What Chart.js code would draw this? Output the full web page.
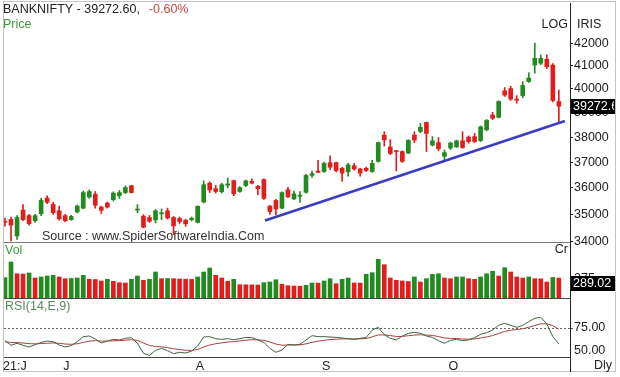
<!DOCTYPE html>
<html>
<head>
<meta charset="utf-8">
<script src="https://cdn.jsdelivr.net/npm/chart.js@4.4.0/dist/chart.umd.min.js"></script>
<style>
  html, body { margin: 0; padding: 0; background: #fff; }
  #wrap { position: relative; width: 620px; height: 377px; }
  #wrap canvas { position: absolute; left: 0; top: 0; }
  #frame { position: absolute; left: 3px; top: 1px; width: 611px; height: 369px; border: 1px solid #c4c4c4; }
</style>
</head>
<body>
<div id="wrap">
  <div id="frame"></div>
  <canvas id="price" width="620" height="377"></canvas>
  <canvas id="vol" width="620" height="377"></canvas>
  <canvas id="rsi" width="620" height="377"></canvas>
</div>
<script>
// daily BANKNIFTY candles, mid June 2021 -> end of Oct 2021
const opens = [34710,34810,34200,35160,34950,34760,35020,35610,35370,35130,
  34950,34800,35090,35230,35650,35760,35270,35420,35550,35700,
  35820,36080,35160,34930,34880,34790,35020,35130,34880,34840,
  34780,34800,34700,35460,36180,35970,35850,36100,36280,35860,
  36090,36250,36060,36320,35310,35520,35230,35930,35580,35680,
  35830,36480,36650,36630,36980,36980,36760,36620,36860,36730,
  36760,36630,37030,38080,37600,37450,37420,37360,38080,38230,
  38600,37680,37780,37230,37560,37610,37850,38000,38020,37860,
  38300,38910,38810,39920,40020,39560,39720,40320,41030,41110,
  41290,41030,39470];
const highs = [34860,34900,34950,35360,35000,35000,35600,35700,35450,35300,
  35000,34960,35350,35880,35920,35860,35300,35460,35850,35900,
  36080,36100,35360,34990,34960,35180,35200,35230,34920,34900,
  34820,34900,35320,36270,36230,36100,36180,36380,36300,36050,
  36300,36350,36100,36350,35330,35560,35850,36020,35880,35860,
  36520,36650,37070,37000,37250,37000,36800,36950,36950,36760,
  36800,37070,37800,38220,37900,37450,37450,37900,38220,38560,
  38620,38020,37980,37480,37800,37880,38220,38050,38150,38450,
  38720,39020,39500,40060,40120,39720,40320,40700,42000,41480,
  41480,41100,39950];
const lows = [34560,34020,34080,34760,34600,34700,34950,35400,35000,34780,
  34720,34780,35050,35200,35600,35230,35030,35230,35500,35600,
  35780,35800,35060,34500,34700,34680,34800,34820,34250,34650,
  34550,34750,34680,35430,35820,35800,35800,36000,35700,35830,
  36050,36150,35740,35560,35000,34980,35200,35630,35550,35450,
  35800,36400,36590,36600,36700,36620,36250,36450,36680,36450,
  36630,36600,37000,37640,37300,36650,36990,37340,37780,38180,
  37420,37640,37450,37050,37500,37580,37550,37750,37780,37820,
  38250,38720,38780,39680,39520,39400,39620,40280,40680,41050,
  40880,39450,38610];
const closes = [34700,34600,34880,34800,34650,34950,35520,35450,35060,34830,
  34760,34920,35310,35820,35860,35340,35150,35270,35800,35820,
  36010,35820,35180,34520,34740,35130,35050,34860,34570,34730,
  34650,34850,35300,36120,35920,35860,36120,36150,35770,36010,
  36270,36180,35970,35600,35100,35200,35820,35660,35770,35720,
  36480,36550,36600,36950,36800,36670,36570,36890,36730,36570,
  36670,36950,37780,37890,37340,37420,37030,37870,37880,38400,
  38150,37850,37530,37380,37760,37850,37580,37820,37820,38420,
  38680,38770,39470,39740,39570,39530,40150,40470,41330,41330,
  40960,39510,39272.60];
// volume in crores
const volumes = [296,522,352,348,363,290,305,319,329,305,
  280,283,290,329,271,268,247,271,242,222,
  218,271,319,257,271,377,280,283,280,276,
  273,270,305,377,435,329,290,242,271,193,
  191,190,188,222,232,265,200,178,174,171,
  184,218,216,247,280,207,271,290,218,216,
  344,367,561,483,290,257,247,239,305,232,
  280,344,352,290,280,305,305,280,271,305,
  352,387,319,439,377,305,290,305,280,278,
  232,297,289.02];
// RSI(14) and its 9 period EMA
const rsiValues = [60.9,55.8,58,55.8,53.9,56.5,59.1,60.5,59.8,56.1,
  53.9,55.4,59.8,65.4,66.1,62.8,58.3,60.5,62.4,61.7,
  63.5,64.3,58,46.9,44.6,50.2,52.4,49.8,46.5,48,
  47.2,49.4,55,65,65.4,63.1,62.4,63.1,62,63.1,
  64.6,64.3,61.7,59.1,52.4,48,50.6,56.9,56.1,56.9,
  61.7,66.5,65.4,65.4,65,64.6,63.9,63.1,62.4,63.5,
  64.6,72.8,75.7,67.6,63.5,61.7,66.1,69.1,70.2,69.1,
  66.1,64.6,60.9,58,61.3,62.4,60.9,61.7,64.3,68,
  69.8,72.8,78,80.2,78,75.7,78,82,85.8,86.9,
  79.5,65.4,57.2];
const rsiSignal = [59.5,59,58.8,58.3,57.6,57.4,57.7,58.1,58.4,58,
  57.2,56.9,57.5,59,60.4,60.9,60.4,60.5,60.8,61,
  61.5,62,61.2,58.3,55.6,54.5,54.1,53.2,51.9,51.1,
  50.3,50.1,51.1,53.9,56.2,57.5,58.5,59.4,59.9,60.6,
  61.4,62,61.9,61.3,59.5,57.2,55.9,56.1,56.1,56.3,
  57.4,59.1,60.4,61.4,62.1,62.6,62.9,62.9,62.8,63,
  63.3,65.2,67.3,67.3,66.6,65.6,65.7,66.4,67.1,67.5,
  67.2,66.7,65.5,64,63.5,63.3,62.8,62.6,62.9,63.9,
  65.1,66.6,68.9,71.2,72.6,73.2,74.2,75.8,77.8,79.6,
  79.6,77.7,73.6];
// support trend line (bar index, price)
const trendX = [44.2, 94.0];
const trendY = [34770, 38660];

const priceTicks = [34000,35000,36000,37000,38000,39000,40000,41000,42000];
const volTicks = [275];
const rsiTicks = [50, 75];
const monthIdx = [1, 11, 33, 54, 75];
const monthLabels = ['21:J', 'J', 'A', 'S', 'O'];

const GREEN = '#218a21';
const RED = '#e21d1d';
const FONT = '"Liberation Sans", Arial, sans-serif';
const FS = 12.5;
const X_MIN = 0.834, X_MAX = 94.85;

Chart.defaults.font.family = FONT;
Chart.defaults.font.size = FS;
Chart.defaults.color = '#222';

const idx = closes.map((_, i) => i + 1);
const candleColor = closes.map((c, i) => c >= opens[i] ? GREEN : RED);
const volColor = volumes.map((v, i) => i === 0 || v >= volumes[i - 1] ? GREEN : RED);
const last = closes.length - 1;

function text(ctx, s, x, y, color, align) {
  ctx.save();
  ctx.font = FS + 'px ' + FONT;
  ctx.fillStyle = color;
  ctx.textAlign = align || 'left';
  ctx.textBaseline = 'middle';
  ctx.fillText(s, x, y);
  ctx.restore();
}
function valueBox(ctx, s, x, y) {
  ctx.save();
  ctx.beginPath();
  ctx.rect(0, 0, 615, 377);
  ctx.clip();
  ctx.fillStyle = '#000';
  ctx.fillRect(x, Math.round(y - 7.5), 60, 15);
  ctx.restore();
  ctx.save();
  ctx.beginPath();
  ctx.rect(0, 0, 614, 377);
  ctx.clip();
  text(ctx, s, x + 2, y + 0.5, '#fff');
  ctx.restore();
}
function hline(ctx, x1, x2, y, color) {
  ctx.save();
  ctx.strokeStyle = color;
  ctx.lineWidth = 1;
  ctx.beginPath();
  ctx.moveTo(x1, y + 0.5);
  ctx.lineTo(x2, y + 0.5);
  ctx.stroke();
  ctx.restore();
}

// right axis with fixed width and no extra label padding
function yAxis(extra) {
  return Object.assign({
    position: 'right',
    afterFit: s => { s.width = 50; s.paddingTop = 0; s.paddingBottom = 0; },
    ticks: { padding: 1, autoSkip: false, color: '#222' },
    grid: { drawOnChartArea: false, tickLength: 3, color: '#222' },
    border: { display: true, color: '#222' }
  }, extra);
}
const xAxis = { type: 'linear', min: X_MIN, max: X_MAX, offset: false, display: false };
const common = {
  responsive: false, animation: false, devicePixelRatio: 1,
  plugins: { legend: { display: false }, tooltip: { enabled: false } }
};

// price panel
new Chart(document.getElementById('price'), {
  type: 'bar',
  data: {
    datasets: [
      { data: idx.map((x, i) => ({ x, y: [lows[i], highs[i]] })), backgroundColor: candleColor,
        barThickness: 1, grouped: false, order: 2 },
      { data: idx.map((x, i) => ({ x, y: [opens[i], closes[i]] })), backgroundColor: candleColor,
        barThickness: 4, minBarLength: 1, grouped: false, order: 1 },
      { type: 'line', data: trendX.map((x, i) => ({ x, y: trendY[i] })), borderColor: '#3b3bc6',
        borderWidth: 2.5, pointRadius: 0, order: 0 }
    ]
  },
  options: Object.assign({}, common, {
    layout: { padding: { left: 4, right: 0, top: 3, bottom: 135 } },
    scales: {
      x: xAxis,
      y: yAxis({
        type: 'logarithmic', min: 33982, max: 43838,
        afterBuildTicks: s => { s.ticks = priceTicks.map(v => ({ value: v })); },
        ticks: { padding: 1, autoSkip: false, color: '#222', callback: v => String(v) }
      })
    }
  }),
  plugins: [{
    id: 'priceText',
    afterDraw(chart) {
      const ctx = chart.ctx, a = chart.chartArea;
      const head = 'BANKNIFTY - ' + closes[last].toFixed(2) + ',';
      text(ctx, head, 3, 10, '#222');
      ctx.font = FS + 'px ' + FONT;
      const w = ctx.measureText(head).width;
      const chg = (closes[last] / closes[last - 1] - 1) * 100;
      text(ctx, chg.toFixed(2) + '%', 3 + w + 9, 10, '#d04545');
      text(ctx, 'Price', 3, 25, '#3c9a3c');
      text(ctx, 'LOG', a.right - 2, 25, '#222', 'right');
      text(ctx, 'IRIS', a.right + 7, 25, '#222');
      text(ctx, 'Source : www.SpiderSoftwareIndia.Com', 42, 237, '#333');
      hline(ctx, a.left, a.right, a.bottom, '#777');
      valueBox(ctx, closes[last].toFixed(2), a.right + 1, chart.scales.y.getPixelForValue(closes[last]));
    }
  }]
});

// volume panel
new Chart(document.getElementById('vol'), {
  type: 'bar',
  data: {
    datasets: [{ data: idx.map((x, i) => ({ x, y: volumes[i] })), backgroundColor: volColor, barThickness: 4 }]
  },
  options: Object.assign({}, common, {
    layout: { padding: { left: 4, right: 0, top: 243, bottom: 79 } },
    scales: {
      x: xAxis,
      y: yAxis({
        min: 0, max: 797.5,
        afterBuildTicks: s => { s.ticks = volTicks.map(v => ({ value: v })); }
      })
    }
  }),
  plugins: [{
    id: 'volText',
    afterDraw(chart) {
      const ctx = chart.ctx, a = chart.chartArea;
      text(ctx, 'Vol', 5, 251, '#3c9a3c');
      text(ctx, 'Cr', a.right - 2, 250, '#222', 'right');
      hline(ctx, a.left, a.right, a.bottom, '#444');
      valueBox(ctx, volumes[last].toFixed(2), a.right + 1, chart.scales.y.getPixelForValue(volumes[last]) + 5);
    }
  }]
});

// RSI panel
new Chart(document.getElementById('rsi'), {
  type: 'line',
  data: {
    datasets: [
      { data: idx.map((x, i) => ({ x, y: rsiValues[i] })), borderColor: '#3f633f', borderWidth: 1, pointRadius: 0 },
      { data: idx.map((x, i) => ({ x, y: rsiSignal[i] })), borderColor: '#a84040', borderWidth: 1, pointRadius: 0 }
    ]
  },
  options: Object.assign({}, common, {
    layout: { padding: { left: 4, right: 0, top: 299, bottom: 5 } },
    scales: {
      x: {
        type: 'linear', min: X_MIN, max: X_MAX, offset: false, position: 'bottom',
        afterBuildTicks: s => { s.ticks = monthIdx.map(v => ({ value: v })); },
        afterFit: s => { s.height = 15; s.paddingLeft = 0; s.paddingRight = 0; },
        ticks: { callback: (v, i) => monthLabels[i], align: 'start', labelOffset: -2, padding: 2, maxRotation: 0, autoSkip: false, color: '#222' },
        grid: { drawOnChartArea: false, drawTicks: false },
        border: { display: false }
      },
      y: yAxis({
        min: 42.8, max: 107.2,
        afterBuildTicks: s => { s.ticks = rsiTicks.map(v => ({ value: v })); },
        ticks: { padding: 1, autoSkip: false, color: '#222', callback: v => v.toFixed(2) },
        grid: {
          drawOnChartArea: true, tickLength: 3,
          color: c => (c.tick && c.tick.value === 75) ? '#666' : 'rgba(0,0,0,0)'
        },
        border: { display: true, color: '#222', dash: [2, 2] }
      })
    }
  }),
  plugins: [{
    id: 'rsiText',
    afterDraw(chart) {
      const ctx = chart.ctx, a = chart.chartArea;
      text(ctx, 'RSI(14,E,9)', 5, 307, '#5a8a5a');
      text(ctx, 'Dly', 612, 366, '#222', 'right');
      hline(ctx, a.left, a.right, a.bottom, '#444');
      ctx.save();
      ctx.strokeStyle = '#222';
      ctx.beginPath();
      ctx.moveTo(a.right + 0.5, a.bottom);
      ctx.lineTo(a.right + 0.5, 372);
      ctx.stroke();
      ctx.restore();
    }
  }]
});
</script>
</body>
</html>
